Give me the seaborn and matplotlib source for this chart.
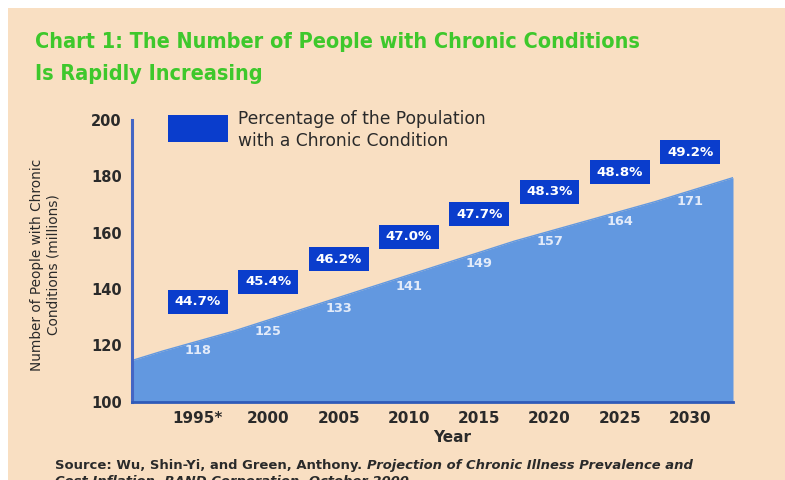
import numpy as np
import pandas as pd
import matplotlib
matplotlib.use("Agg")
import matplotlib.pyplot as plt
from matplotlib.patches import Rectangle
import seaborn as sns

# ---- data -------------------------------------------------------------
years = ["1995*", "2000", "2005", "2010", "2015", "2020", "2025", "2030"]
people_millions = [118, 125, 133, 141, 149, 157, 164, 171]
pct_labels = ["44.7%", "45.4%", "46.2%", "47.0%", "47.7%", "48.3%", "48.8%", "49.2%"]
y_ticks = [100, 120, 140, 160, 180, 200]

title_lines = ["Chart 1: The Number of People with Chronic Conditions",
               "Is Rapidly Increasing"]
legend_lines = ["Percentage of the Population", "with a Chronic Condition"]
y_label = "Number of People with Chronic\nConditions (millions)"
x_label = "Year"
source_plain = "Source: Wu, Shin-Yi, and Green, Anthony. "
source_italic = "Projection of Chronic Illness Prevalence and"
source_line2 = "Cost Inflation, RAND Corporation, October 2000."

# ---- style ------------------------------------------------------------
BG = "#f9dfc2"
AREA = "#6298e0"
BOX = "#0a3dcc"
TITLE = "#3ec82c"
INK = "#2a2a2a"

sns.set_theme(style="white")
plt.rcParams["font.family"] = ["DejaVu Sans"]

W, H = 785, 480
fig = plt.figure(figsize=(W / 100, H / 100), dpi=100, facecolor="white")
renderer = fig.canvas.get_renderer()


def fx(px):
    return px / W


def fy(py):
    return 1 - py / H


# peach page background with a thin white margin on the top and left
fig.patches.append(Rectangle((fx(8), 0), 1, fy(8), transform=fig.transFigure,
                             facecolor=BG, edgecolor="none", zorder=-10))

ax = fig.add_axes([fx(131.7), fy(401.7), fx(733 - 131.7), (401.7 - 120) / H])
ax.set_facecolor("none")

n = len(years)
idx = np.arange(n)
vals = np.array(people_millions, dtype=float)

# area vertices sit half a slot to the left of each category label;
# the trend is carried on to both ends of the axis
vx = idx - 0.5
xlo, xhi = -0.943, 7.61
slope, icpt = np.polyfit(vx, vals, 1)
ax_x = np.concatenate([[xlo], vx, [xhi]])
ax_y = np.concatenate([[vals[0] - (vx[0] - xlo) * slope], vals,
                       [vals[-1] + (xhi - vx[-1]) * slope]])
df = pd.DataFrame({"x": ax_x, "y": ax_y})

ax.fill_between(df["x"], 100, df["y"], color=AREA, lw=0, zorder=1)
sns.lineplot(data=df, x="x", y="y", ax=ax, color=AREA, lw=1.0, zorder=1.5)

# value labels inside the area
for i, v in zip(idx, people_millions):
    ax.text(i, v, f"{v}", color="#e3ebf9", fontsize=9.3, fontweight="bold",
            ha="center", va="center", zorder=3)

# percentage boxes above the area
box_w, box_h, box_off = 0.853, 8.5, 17.5
for i, v, p in zip(idx, people_millions, pct_labels):
    cy = v + box_off
    ax.add_patch(Rectangle((i - box_w / 2, cy - box_h / 2), box_w, box_h,
                           facecolor=BOX, edgecolor="none", zorder=4))
    ax.text(i, cy, p, color="white", fontsize=9.6, fontweight="bold",
            ha="center", va="center", zorder=5)

ax.set_xlim(xlo, xhi)
ax.set_ylim(100, 200)
ax.set_xticks(idx, years)
ax.set_yticks(y_ticks)
ax.tick_params(axis="both", length=0, labelcolor=INK)
ax.tick_params(axis="x", pad=7, labelsize=11)
ax.tick_params(axis="y", pad=7, labelsize=10.5)
for lab in ax.get_xticklabels() + ax.get_yticklabels():
    lab.set_fontweight("bold")
ax.set_xlabel("")
ax.set_ylabel("")
for s in ("top", "right"):
    ax.spines[s].set_visible(False)
ax.spines["left"].set_color("#4466c4")
ax.spines["left"].set_linewidth(2.2)
ax.spines["bottom"].set_color("#2f5ab8")
ax.spines["bottom"].set_linewidth(2.0)
ax.spines["left"].set_zorder(6)
ax.spines["bottom"].set_zorder(6)

# axis titles
fig.text(fx(45), fy(265), y_label, rotation=90, ha="center", va="center",
         fontsize=9.8, color=INK, multialignment="center", linespacing=1.2)
fig.text(fx(452), fy(438), x_label, ha="center", va="center",
         fontsize=11, fontweight="bold", color=INK)

# legend
fig.patches.append(Rectangle((fx(168), fy(142)), fx(60), 27 / H,
                             transform=fig.transFigure, facecolor=BOX,
                             edgecolor="none"))
for k, line in enumerate(legend_lines):
    fig.text(fx(238), fy(119 + 22 * k), line, ha="left", va="center",
             fontsize=12.3, color=INK)

# title, sized so the first line spans the header width
t1 = fig.text(fx(35), fy(48), title_lines[0], ha="left", va="baseline",
              fontsize=20, fontweight="bold", fontstretch="condensed",
              color=TITLE)
w1 = t1.get_window_extent(renderer).width
size = 20 * 605 / w1
t1.set_fontsize(size)
fig.text(fx(35), fy(80), title_lines[1], ha="left", va="baseline",
         fontsize=size, fontweight="bold", fontstretch="condensed",
         color=TITLE)

# source note, sized so the first line runs to the right margin
src = 8.3
s1 = fig.text(fx(55), fy(469), source_plain, ha="left", va="baseline",
              fontsize=src, fontweight="bold", color=INK)
s2 = fig.text(fx(55), fy(469), source_italic, ha="left", va="baseline",
              fontsize=src, fontweight="bold", style="italic", color=INK)
total = s1.get_window_extent(renderer).width + s2.get_window_extent(renderer).width
src = src * 638 / total
s1.set_fontsize(src)
s2.set_fontsize(src)
sw = s1.get_window_extent(renderer).width
s2.set_x(fx(55 + sw))
fig.text(fx(55), fy(485), source_line2, ha="left", va="baseline",
         fontsize=src, fontweight="bold", style="italic", color=INK)

fig.savefig("out.png", dpi=100, facecolor=fig.get_facecolor())
